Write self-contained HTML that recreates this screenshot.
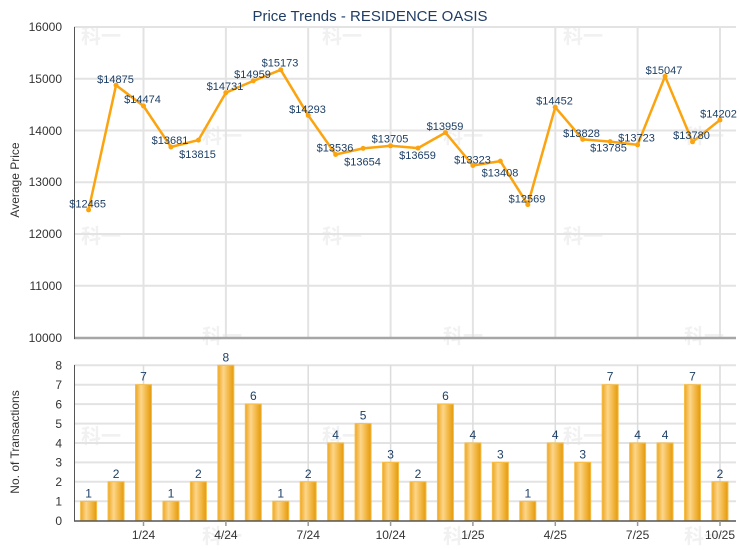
<!DOCTYPE html>
<html><head><meta charset="utf-8"><style>
html,body{margin:0;padding:0;background:#fff;}
svg{display:block;}
</style></head><body>
<svg width="740" height="550" viewBox="0 0 740 550" xmlns="http://www.w3.org/2000/svg" font-family="Liberation Sans, Arial, sans-serif">
<defs>
<linearGradient id="bg" x1="0" y1="0" x2="1" y2="0">
<stop offset="0" stop-color="#eea623"/>
<stop offset="0.35" stop-color="#fcd68a"/>
<stop offset="0.7" stop-color="#f2b540"/>
<stop offset="1" stop-color="#e39a0a"/>
</linearGradient>
</defs>
<rect width="740" height="550" fill="#fff"/>
<!-- watermarks -->
<g font-family="Noto Sans CJK SC, WenQuanYi Zen Hei, sans-serif" font-size="20" font-weight="bold" fill="#f1f1f1" text-anchor="middle">
<text x="101" y="43">科一</text><text x="342" y="43">科一</text><text x="583" y="43">科一</text>
<text x="222" y="143">科一</text><text x="463" y="143">科一</text><text x="704" y="143">科一</text>
<text x="101" y="243">科一</text><text x="342" y="243">科一</text><text x="583" y="243">科一</text>
<text x="222" y="343">科一</text><text x="463" y="343">科一</text><text x="704" y="343">科一</text>
<text x="101" y="443">科一</text><text x="342" y="443">科一</text><text x="583" y="443">科一</text>
<text x="222" y="543">科一</text><text x="463" y="543">科一</text><text x="704" y="543">科一</text>
</g>
<!-- title -->
<text x="370" y="21" text-anchor="middle" font-size="15" fill="#1f3c64">Price Trends - RESIDENCE OASIS</text>

<!-- top chart grid -->
<g stroke="#e3e3e3" stroke-width="2">
<line x1="74" y1="27" x2="736" y2="27"/>
<line x1="74" y1="78.75" x2="736" y2="78.75"/>
<line x1="74" y1="130.5" x2="736" y2="130.5"/>
<line x1="74" y1="182.25" x2="736" y2="182.25"/>
<line x1="74" y1="234" x2="736" y2="234"/>
<line x1="74" y1="285.75" x2="736" y2="285.75"/>
<line x1="143.5" y1="27" x2="143.5" y2="337"/>
<line x1="225.9" y1="27" x2="225.9" y2="337"/>
<line x1="308.2" y1="27" x2="308.2" y2="337"/>
<line x1="390.6" y1="27" x2="390.6" y2="337"/>
<line x1="472.9" y1="27" x2="472.9" y2="337"/>
<line x1="555.3" y1="27" x2="555.3" y2="337"/>
<line x1="637.6" y1="27" x2="637.6" y2="337"/>
<line x1="720" y1="27" x2="720" y2="337"/>
</g>
<line x1="74" y1="338" x2="736" y2="338" stroke="#a6a6a6" stroke-width="2.5"/>
<line x1="74.5" y1="27" x2="74.5" y2="339" stroke="#555" stroke-width="1"/>
<g font-size="12" fill="#333" text-anchor="end">
<text x="62" y="31">16000</text>
<text x="62" y="83">15000</text>
<text x="62" y="135">14000</text>
<text x="62" y="186">13000</text>
<text x="62" y="238">12000</text>
<text x="62" y="290">11000</text>
<text x="62" y="342">10000</text>
</g>
<text transform="translate(19,180) rotate(-90)" text-anchor="middle" font-size="12" fill="#333">Average Price</text>

<!-- line -->
<polyline fill="none" stroke="#fba40f" stroke-width="2.5" stroke-linejoin="round" points="88.6,209.9 116.05,85.2 143.5,106.0 170.95,147.0 198.4,140.1 225.85,92.7 253.3,80.9 280.75,69.8 308.2,115.3 335.65,154.5 363.1,148.4 390.55,145.8 418,148.1 445.45,132.6 472.9,165.5 500.35,161.1 527.8,204.6 555.25,107.2 582.7,139.4 610.15,141.6 637.6,144.8 665.05,76.3 692.5,141.8 719.95,120.0"/>
<g fill="#fba40f">
<circle cx="88.6" cy="209.9" r="2.5"/><circle cx="116.05" cy="85.2" r="2.5"/><circle cx="143.5" cy="106.0" r="2.5"/><circle cx="170.95" cy="147.0" r="2.5"/><circle cx="198.4" cy="140.1" r="2.5"/><circle cx="225.85" cy="92.7" r="2.5"/><circle cx="253.3" cy="80.9" r="2.5"/><circle cx="280.75" cy="69.8" r="2.5"/><circle cx="308.2" cy="115.3" r="2.5"/><circle cx="335.65" cy="154.5" r="2.5"/><circle cx="363.1" cy="148.4" r="2.5"/><circle cx="390.55" cy="145.8" r="2.5"/><circle cx="418" cy="148.1" r="2.5"/><circle cx="445.45" cy="132.6" r="2.5"/><circle cx="472.9" cy="165.5" r="2.5"/><circle cx="500.35" cy="161.1" r="2.5"/><circle cx="527.8" cy="204.6" r="2.5"/><circle cx="555.25" cy="107.2" r="2.5"/><circle cx="582.7" cy="139.4" r="2.5"/><circle cx="610.15" cy="141.6" r="2.5"/><circle cx="637.6" cy="144.8" r="2.5"/><circle cx="665.05" cy="76.3" r="2.5"/><circle cx="692.5" cy="141.8" r="2.5"/><circle cx="719.95" cy="120.0" r="2.5"/>
</g>
<g font-size="11" fill="#1d3f66" text-anchor="middle">
<text x="87.6" y="207.3">$12465</text>
<text x="115.5" y="83">$14875</text>
<text x="142.5" y="103">$14474</text>
<text x="170" y="144">$13681</text>
<text x="197.5" y="158">$13815</text>
<text x="225" y="90">$14731</text>
<text x="252.5" y="78">$14959</text>
<text x="280" y="66.7">$15173</text>
<text x="307.5" y="113">$14293</text>
<text x="335" y="151.7">$13536</text>
<text x="362.5" y="165.3">$13654</text>
<text x="390" y="142.7">$13705</text>
<text x="417.5" y="159">$13659</text>
<text x="445" y="130">$13959</text>
<text x="472.5" y="163.3">$13323</text>
<text x="500" y="176.3">$13408</text>
<text x="527" y="202.3">$12569</text>
<text x="554.5" y="104.7">$14452</text>
<text x="581.5" y="137">$13828</text>
<text x="608.5" y="151.7">$13785</text>
<text x="636.5" y="141.7">$13723</text>
<text x="664" y="74">$15047</text>
<text x="691.5" y="139">$13780</text>
<text x="718.5" y="117.3">$14202</text>
</g>

<!-- bottom chart grid -->
<g stroke="#e3e3e3" stroke-width="2">
<line x1="74" y1="365.3" x2="736" y2="365.3"/>
<line x1="74" y1="384.7" x2="736" y2="384.7"/>
<line x1="74" y1="404.1" x2="736" y2="404.1"/>
<line x1="74" y1="423.6" x2="736" y2="423.6"/>
<line x1="74" y1="443" x2="736" y2="443"/>
<line x1="74" y1="462.4" x2="736" y2="462.4"/>
<line x1="74" y1="481.8" x2="736" y2="481.8"/>
<line x1="74" y1="501.3" x2="736" y2="501.3"/>
</g>
<g stroke="#dcdcdc" stroke-width="1.5">
<line x1="143.5" y1="365" x2="143.5" y2="520"/>
<line x1="225.9" y1="365" x2="225.9" y2="520"/>
<line x1="308.2" y1="365" x2="308.2" y2="520"/>
<line x1="390.6" y1="365" x2="390.6" y2="520"/>
<line x1="472.9" y1="365" x2="472.9" y2="520"/>
<line x1="555.3" y1="365" x2="555.3" y2="520"/>
<line x1="637.6" y1="365" x2="637.6" y2="520"/>
<line x1="720" y1="365" x2="720" y2="520"/>
</g>
<!-- bars -->
<g fill="url(#bg)" stroke="#f6bd45" stroke-width="1">
<rect x="80.6" y="501.3" width="16" height="19.4"/>
<rect x="108.05" y="481.8" width="16" height="38.9"/>
<rect x="135.5" y="384.7" width="16" height="136"/>
<rect x="162.95" y="501.3" width="16" height="19.4"/>
<rect x="190.4" y="481.8" width="16" height="38.9"/>
<rect x="217.85" y="365.3" width="16" height="155.4"/>
<rect x="245.3" y="404.1" width="16" height="116.6"/>
<rect x="272.75" y="501.3" width="16" height="19.4"/>
<rect x="300.2" y="481.8" width="16" height="38.9"/>
<rect x="327.65" y="443" width="16" height="77.7"/>
<rect x="355.1" y="423.6" width="16" height="97.1"/>
<rect x="382.55" y="462.4" width="16" height="58.3"/>
<rect x="410" y="481.8" width="16" height="38.9"/>
<rect x="437.45" y="404.1" width="16" height="116.6"/>
<rect x="464.9" y="443" width="16" height="77.7"/>
<rect x="492.35" y="462.4" width="16" height="58.3"/>
<rect x="519.8" y="501.3" width="16" height="19.4"/>
<rect x="547.25" y="443" width="16" height="77.7"/>
<rect x="574.7" y="462.4" width="16" height="58.3"/>
<rect x="602.15" y="384.7" width="16" height="136"/>
<rect x="629.6" y="443" width="16" height="77.7"/>
<rect x="657.05" y="443" width="16" height="77.7"/>
<rect x="684.5" y="384.7" width="16" height="136"/>
<rect x="711.95" y="481.8" width="16" height="38.9"/>
</g>
<g font-size="12" fill="#1d3f66" text-anchor="middle">
<text x="88.6" y="497.3">1</text>
<text x="116.05" y="477.8">2</text>
<text x="143.5" y="380.7">7</text>
<text x="170.95" y="497.3">1</text>
<text x="198.4" y="477.8">2</text>
<text x="225.85" y="361.3">8</text>
<text x="253.3" y="400.1">6</text>
<text x="280.75" y="497.3">1</text>
<text x="308.2" y="477.8">2</text>
<text x="335.65" y="439">4</text>
<text x="363.1" y="419.6">5</text>
<text x="390.55" y="458.4">3</text>
<text x="418" y="477.8">2</text>
<text x="445.45" y="400.1">6</text>
<text x="472.9" y="439">4</text>
<text x="500.35" y="458.4">3</text>
<text x="527.8" y="497.3">1</text>
<text x="555.25" y="439">4</text>
<text x="582.7" y="458.4">3</text>
<text x="610.15" y="380.7">7</text>
<text x="637.6" y="439">4</text>
<text x="665.05" y="439">4</text>
<text x="692.5" y="380.7">7</text>
<text x="719.95" y="477.8">2</text>
</g>
<line x1="74" y1="521" x2="736" y2="521" stroke="#555" stroke-width="1.5"/>
<line x1="74.5" y1="365" x2="74.5" y2="521" stroke="#555" stroke-width="1"/>
<g stroke="#999" stroke-width="1.5">
<line x1="143.5" y1="521" x2="143.5" y2="526"/>
<line x1="225.9" y1="521" x2="225.9" y2="526"/>
<line x1="308.2" y1="521" x2="308.2" y2="526"/>
<line x1="390.6" y1="521" x2="390.6" y2="526"/>
<line x1="472.9" y1="521" x2="472.9" y2="526"/>
<line x1="555.3" y1="521" x2="555.3" y2="526"/>
<line x1="637.6" y1="521" x2="637.6" y2="526"/>
<line x1="720" y1="521" x2="720" y2="526"/>
</g>
<g font-size="12" fill="#333" text-anchor="end">
<text x="62" y="369.5">8</text>
<text x="62" y="389">7</text>
<text x="62" y="408.4">6</text>
<text x="62" y="427.8">5</text>
<text x="62" y="447.3">4</text>
<text x="62" y="466.7">3</text>
<text x="62" y="486.1">2</text>
<text x="62" y="505.5">1</text>
<text x="62" y="525">0</text>
</g>
<g font-size="12" fill="#333" text-anchor="middle">
<text x="143.5" y="539">1/24</text>
<text x="225.9" y="539">4/24</text>
<text x="308.2" y="539">7/24</text>
<text x="390.6" y="539">10/24</text>
<text x="472.9" y="539">1/25</text>
<text x="555.3" y="539">4/25</text>
<text x="637.6" y="539">7/25</text>
<text x="720" y="539">10/25</text>
</g>
<text transform="translate(19,442) rotate(-90)" text-anchor="middle" font-size="12" fill="#333">No. of Transactions</text>
</svg>
</body></html>
